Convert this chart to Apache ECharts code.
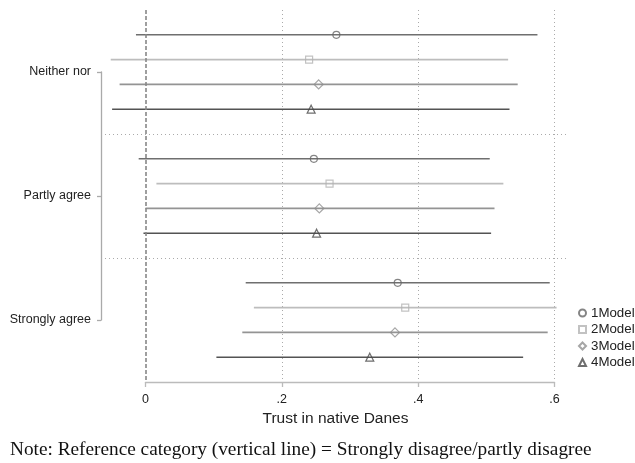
<!DOCTYPE html>
<html>
<head>
<meta charset="utf-8">
<script src="https://cdn.jsdelivr.net/npm/echarts@6/dist/echarts.min.js"></script>
<style>
  html, body { margin: 0; padding: 0; background: #fff; }
  #chart { width: 635px; height: 463px; }
</style>
</head>
<body>
<div id="chart"></div>
<script>
// Coefficient plot: trust in native Danes by answer group, four models.
const groups = ['Neither nor', 'Partly agree', 'Strongly agree'];
const models = ['1Model', '2Model', '3Model', '4Model'];

// Point estimates, one array per model, ordered as in `groups`.
const est1 = [0.280, 0.247, 0.370];
const est2 = [0.240, 0.270, 0.381];
const est3 = [0.254, 0.255, 0.366];
const est4 = [0.243, 0.251, 0.329];

// Lower / upper confidence bounds, same ordering.
const lo1 = [-0.014, -0.010, 0.147];
const hi1 = [0.575, 0.505, 0.593];
const lo2 = [-0.051, 0.016, 0.159];
const hi2 = [0.532, 0.525, 0.603];
const lo3 = [-0.038, 0.000, 0.142];
const hi3 = [0.546, 0.512, 0.590];
const lo4 = [-0.049, -0.003, 0.104];
const hi4 = [0.534, 0.507, 0.554];

const xTicks = [0, 0.2, 0.4, 0.6];
const xTickLabels = ['0', '.2', '.4', '.6'];
const noteText = 'Note: Reference category (vertical line) = Strongly disagree/partly disagree';

const estimates = [est1, est2, est3, est4];
const lowers = [lo1, lo2, lo3, lo4];
const uppers = [hi1, hi2, hi3, hi4];

const lineColors = ['#6f6f6f', '#bdbdbd', '#949494', '#535353'];
const markColors = ['#666666', '#b3b3b3', '#909090', '#4a4a4a'];
const symbols = ['circle', 'rect', 'diamond', 'triangle'];
const symbolSizes = [7, 7, 9, 8];

const SANS = '"Liberation Sans", Arial, Helvetica, sans-serif';

// Each group takes four rows on the y scale, with an empty row between groups.
function rowOf(g, m) { return g * 5 + m + 1; }

const series = [];
models.forEach(function (name, m) {
  const ci = groups.map(function (_, g) { return [lowers[m][g], uppers[m][g], rowOf(g, m)]; });
  const pts = groups.map(function (_, g) { return [estimates[m][g], rowOf(g, m)]; });
  const ciSeries = {
    type: 'custom',
    name: name + ' CI',
    xAxisIndex: 2,
    yAxisIndex: 2,
    clip: false,
    silent: true,
    z: 3,
    encode: { x: [0, 1], y: 2 },
    data: ci,
    renderItem: function (params, api) {
      const a = api.coord([api.value(0), api.value(2)]);
      const b = api.coord([api.value(1), api.value(2)]);
      return {
        type: 'line',
        shape: { x1: a[0], y1: a[1], x2: b[0], y2: b[1] },
        style: { stroke: lineColors[m], lineWidth: 1.6 }
      };
    }
  };
  if (m === 0) {
    // dashed reference line at zero
    ciSeries.markLine = {
      silent: true,
      symbol: 'none',
      label: { show: false },
      lineStyle: { color: '#888', width: 1.6, type: [4, 2] },
      data: [{ xAxis: 0 }]
    };
  }
  series.push(ciSeries);
  series.push({
    type: 'scatter',
    name: name,
    xAxisIndex: 2,
    yAxisIndex: 2,
    clip: false,
    z: 5,
    symbol: symbols[m],
    symbolSize: symbolSizes[m],
    itemStyle: { color: 'rgba(255,255,255,0)', borderColor: markColors[m], borderWidth: 1.2 },
    data: pts
  });
});

const chart = echarts.init(document.getElementById('chart'), null, { renderer: 'canvas' });
chart.setOption({
  animation: false,
  backgroundColor: '#fff',
  grid: [
    // plot region
    { left: 105, top: 10, width: 461, height: 372 },
    // group label bracket
    { left: 101, top: 72, width: 10, height: 248 },
    // scaled x axis (0 to .6)
    { left: 145.5, top: 10, width: 409, height: 372 }
  ],
  xAxis: [
    {
      gridIndex: 0, type: 'value', min: 0, max: 1, position: 'bottom',
      axisLine: { show: false, onZero: false }, axisTick: { show: false }, axisLabel: { show: false },
      splitLine: { show: false },
      name: 'Trust in native Danes', nameLocation: 'middle', nameGap: 29,
      nameTextStyle: { fontFamily: SANS, fontSize: 15.5, color: '#222' }
    },
    { gridIndex: 1, type: 'value', show: false },
    {
      gridIndex: 2, type: 'value', min: xTicks[0], max: xTicks[xTicks.length - 1], interval: 0.2,
      position: 'bottom',
      axisLine: { show: true, onZero: false, lineStyle: { color: '#bbb', width: 1.3 } },
      axisTick: { show: true, length: 5, lineStyle: { color: '#bbb', width: 1.3 } },
      axisLabel: {
        margin: 11, fontFamily: SANS, fontSize: 12.5, color: '#222',
        formatter: function (v) {
          const i = xTicks.findIndex(function (t) { return Math.abs(t - v) < 1e-9; });
          return i >= 0 ? xTickLabels[i] : '';
        }
      },
      splitLine: { show: true, showMinLine: false, lineStyle: { color: '#aaa', width: 1, type: [1, 3] } }
    }
  ],
  yAxis: [
    {
      gridIndex: 0, type: 'value', min: 0, max: 15, interval: 5, inverse: true,
      axisLine: { show: false }, axisTick: { show: false }, axisLabel: { show: false },
      splitLine: { show: true, showMinLine: false, showMaxLine: false, lineStyle: { color: '#aaa', width: 1, type: [1, 3] } }
    },
    {
      gridIndex: 1, type: 'category', data: groups, boundaryGap: false, inverse: true,
      axisLine: { show: true, lineStyle: { color: '#aaa', width: 1.3 } },
      axisTick: { show: true, length: 4, lineStyle: { color: '#aaa', width: 1.3 } },
      axisLabel: { margin: 10, fontFamily: SANS, fontSize: 12.5, color: '#222' },
      splitLine: { show: false }
    },
    {
      gridIndex: 2, type: 'value', min: 0, max: 15, inverse: true, show: false
    }
  ],
  legend: {
    data: models,
    orient: 'vertical',
    left: 578,
    top: 306,
    padding: 0,
    itemWidth: 7,
    itemHeight: 7,
    itemGap: 2.5,
    textStyle: { fontFamily: SANS, fontSize: 13.3, color: '#222', lineHeight: 14 }
  },
  graphic: [
    {
      type: 'text',
      left: 10,
      top: 440,
      style: { text: noteText, font: '19.3px "Liberation Serif", "Times New Roman", serif', fill: '#111' }
    }
  ],
  series: series
});
</script>
</body>
</html>
